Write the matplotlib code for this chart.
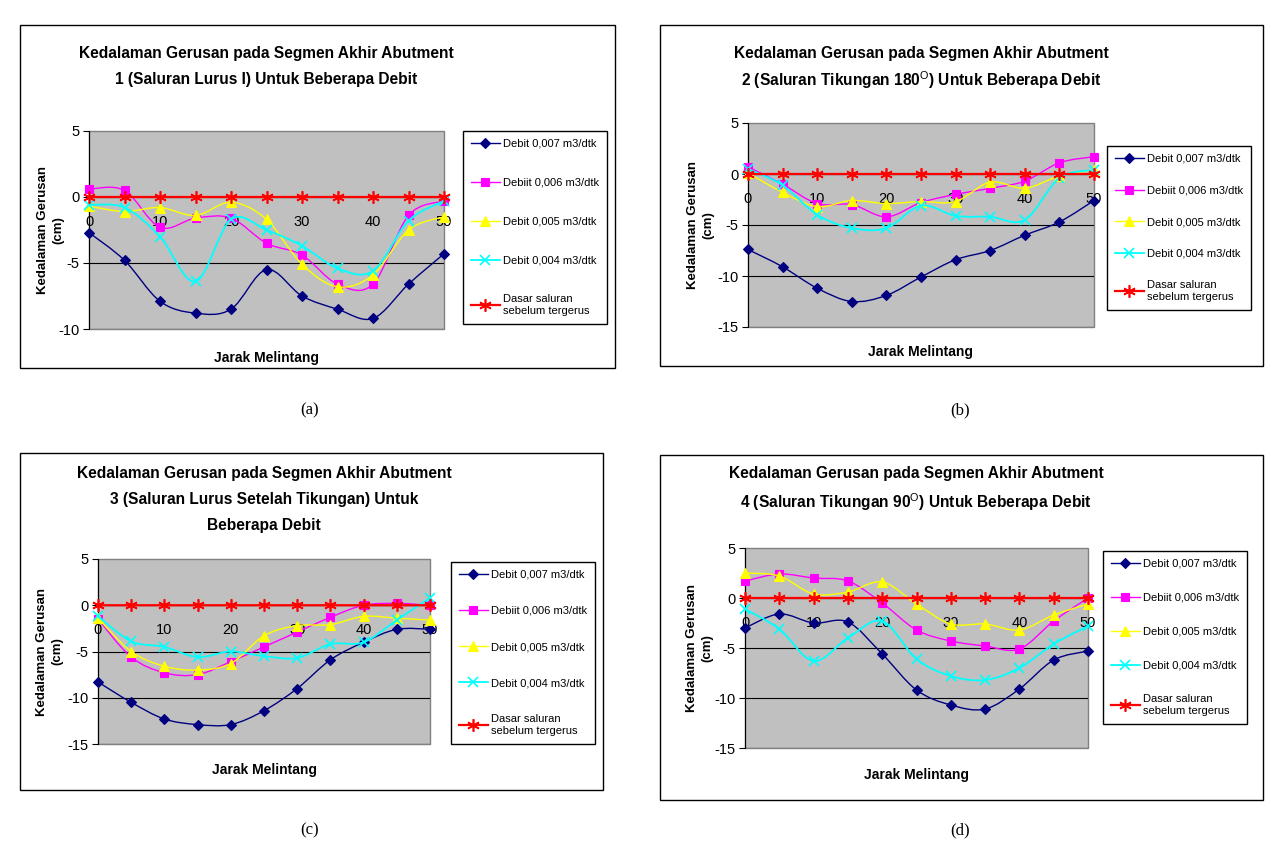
import numpy as np
import matplotlib
matplotlib.use("Agg")
import matplotlib.pyplot as plt
from matplotlib.path import Path
from matplotlib.patches import PathPatch, Rectangle
from matplotlib.lines import Line2D

plt.rcParams['font.family'] = ['Liberation Sans', 'DejaVu Sans']
plt.rcParams['mathtext.fontset'] = 'custom'
plt.rcParams['mathtext.rm'] = 'Liberation Sans'
plt.rcParams['axes.unicode_minus'] = False

# data: jarak melintang (x) and kedalaman gerusan (cm) per debit
jarak = [0, 5, 10, 15, 20, 25, 30, 35, 40, 45, 50]

a_q007 = [-2.7, -4.8, -7.9, -8.8, -8.5, -5.5, -7.5, -8.5, -9.2, -6.6, -4.3]
a_q006 = [0.6, 0.5, -2.3, -1.6, -1.6, -3.5, -4.4, -6.6, -6.6, -1.4, -0.3]
a_q005 = [-0.7, -1.1, -0.8, -1.4, -0.4, -1.7, -5.1, -6.8, -5.9, -2.5, -1.5]
a_q004 = [-0.6, -0.8, -3.0, -6.4, -1.7, -2.5, -3.7, -5.4, -5.6, -1.8, -0.3]

b_q007 = [-7.4, -9.1, -11.2, -12.5, -11.9, -10.1, -8.4, -7.5, -6.0, -4.7, -2.6]
b_q006 = [0.7, -1.0, -2.9, -3.0, -4.2, -2.8, -2.0, -1.4, -0.7, 1.1, 1.7]
b_q005 = [0.1, -1.8, -3.2, -2.6, -2.9, -2.7, -2.7, -0.8, -1.4, -0.2, 0.4]
b_q004 = [0.5, -1.1, -4.0, -5.3, -5.3, -3.1, -4.1, -4.2, -4.5, -0.4, 0.4]

c_q007 = [-8.3, -10.5, -12.3, -12.9, -12.9, -11.4, -9.0, -5.9, -4.0, -2.6, -2.6]
c_q006 = [-1.5, -5.6, -7.3, -7.5, -6.1, -4.5, -2.9, -1.3, 0.0, 0.2, 0.0]
c_q005 = [-1.4, -5.0, -6.6, -7.0, -6.3, -3.3, -2.2, -2.1, -1.2, -1.4, -1.6]
c_q004 = [-1.2, -3.9, -4.5, -5.6, -5.0, -5.5, -5.7, -4.2, -4.0, -1.6, 0.8]

d_q007 = [-3.0, -1.6, -2.5, -2.4, -5.6, -9.2, -10.7, -11.1, -9.1, -6.2, -5.3]
d_q006 = [1.7, 2.4, 2.0, 1.7, -0.5, -3.2, -4.3, -4.8, -5.1, -2.3, 0.0]
d_q005 = [2.5, 2.2, 0.4, 0.6, 1.6, -0.6, -2.6, -2.6, -3.2, -1.7, -0.6]
d_q004 = [-1.1, -3.1, -6.3, -4.0, -2.3, -6.1, -7.8, -8.2, -7.0, -4.6, -2.8]

dasar = [0] * len(jarak)

series_labels = ['Debit 0,007 m3/dtk', 'Debiit 0,006 m3/dtk', 'Debit 0,005 m3/dtk',
                 'Debit 0,004 m3/dtk', 'Dasar saluran\nsebelum tergerus']
x_ticks = [0, 10, 20, 30, 40, 50]
x_label = 'Jarak Melintang'
y_label = 'Kedalaman Gerusan\n(cm)'

title_top = 'Kedalaman Gerusan pada Segmen Akhir Abutment'
titles = [
    [title_top, '1 (Saluran Lurus I) Untuk Beberapa Debit'],
    [title_top, '2 (Saluran Tikungan 180$^{\\mathrm{O}}$) Untuk Beberapa Debit'],
    [title_top, '3 (Saluran Lurus Setelah Tikungan) Untuk', 'Beberapa Debit'],
    [title_top, '4 (Saluran Tikungan 90$^{\\mathrm{O}}$) Untuk Beberapa Debit'],
]
captions = ['(a)', '(b)', '(c)', '(d)']
panel_data = [
    [a_q007, a_q006, a_q005, a_q004, dasar],
    [b_q007, b_q006, b_q005, b_q004, dasar],
    [c_q007, c_q006, c_q005, c_q004, dasar],
    [d_q007, d_q006, d_q005, d_q004, dasar],
]
y_limits = [(-10, 5), (-15, 5), (-15, 5), (-15, 5)]

# styling
colors = ['#000080', '#FF00FF', '#FFFF00', '#00FFFF', '#FF0000']
markers = ['D', 's', '^', 'x', (6, 2, 0)]
msizes = [5.5, 5.5, 6.5, 6.5, 9]
lwidths = [1.0, 1.0, 1.0, 1.3, 1.6]

W, H = 1277, 868
# pixel layout: box, plot area, legend top-left, title line centres, caption
layout = [
    dict(box=(20, 25, 615, 368), plot=(89, 131, 444, 329), leg=(463, 131), lspace=2.6,
         title_ys=[52, 78], cap=(310, 410), xlab_y=358, ylab_x=64),
    dict(box=(660, 25, 1263, 366), plot=(748, 123, 1094, 327), leg=(1107, 146), lspace=1.95,
         title_ys=[52, 80], cap=(960, 410), xlab_y=352, ylab_x=714),
    dict(box=(20, 453, 603, 790), plot=(98, 559, 430, 744), leg=(451, 562), lspace=2.35,
         title_ys=[472, 498, 524], cap=(310, 830), xlab_y=770, ylab_x=63),
    dict(box=(660, 455, 1263, 800), plot=(745, 548, 1088, 748), leg=(1103, 551), lspace=2.15,
         title_ys=[472, 502], cap=(960, 830), xlab_y=775, ylab_x=713),
]


def frect(x0, y0, x1, y1):
    return [x0 / W, 1 - y1 / H, (x1 - x0) / W, (y1 - y0) / H]


def smooth_path(xs, ys):
    # Excel-like smoothed line: cubic Bezier through every point
    pts = np.column_stack([xs, ys]).astype(float)
    n = len(pts)
    verts = [pts[0]]
    codes = [Path.MOVETO]
    for i in range(n - 1):
        p0 = pts[i - 1] if i > 0 else pts[i]
        p1, p2 = pts[i], pts[i + 1]
        p3 = pts[i + 2] if i + 2 < n else pts[i + 1]
        verts += [p1 + (p2 - p0) / 6, p2 - (p3 - p1) / 6, p2]
        codes += [Path.CURVE4] * 3
    return Path(verts, codes)


fig = plt.figure(figsize=(W / 100, H / 100), dpi=100)

for k, lay in enumerate(layout):
    bx0, by0, bx1, by1 = lay['box']
    px0, py0, px1, py1 = lay['plot']
    fig.add_artist(Rectangle((bx0 / W, 1 - by1 / H), (bx1 - bx0) / W, (by1 - by0) / H,
                             transform=fig.transFigure, fill=False, ec='black', lw=1))
    for line, ty in zip(titles[k], lay['title_ys']):
        fig.text((px0 + px1) / 2 / W, 1 - (ty + 6) / H, line, ha='center', va='baseline',
                 fontsize=11.2, fontweight='bold')
    fig.text(lay['cap'][0] / W, 1 - lay['cap'][1] / H, captions[k], ha='center', va='center',
             fontsize=12, family='Liberation Serif')

    ax = fig.add_axes(frect(px0, py0, px1, py1))
    ax.set_facecolor('#C0C0C0')
    ax.patch.set_edgecolor('#808080')
    ax.patch.set_linewidth(1.0)
    ax.set_xlim(0, 50)
    ax.set_ylim(*y_limits[k])
    yt = list(range(y_limits[k][1], y_limits[k][0] - 1, -5))
    ax.set_yticks(yt)
    for v in yt[1:]:
        ax.axhline(v, color='black', lw=0.8, zorder=1)

    for spine in ['top', 'right']:
        ax.spines[spine].set_visible(False)
    ax.spines['left'].set_color('black')
    ax.spines['bottom'].set_position(('data', 0))
    ax.set_xticks(x_ticks)
    ax.tick_params(axis='x', length=0, pad=13, labelsize=10.5)
    ax.tick_params(axis='y', direction='out', length=4, labelsize=10.5, pad=3)

    handles = []
    for s, ys in enumerate(panel_data[k]):
        ax.add_patch(PathPatch(smooth_path(jarak, ys), fill=False, ec=colors[s],
                               lw=lwidths[s], zorder=3 + s))
        ax.plot(jarak, ys, ls='none', marker=markers[s], ms=msizes[s], color=colors[s],
                mec=colors[s], mew=1.2 if s >= 3 else 0.8, zorder=3.5 + s, clip_on=False)
        handles.append(Line2D([], [], color=colors[s], marker=markers[s], ms=msizes[s],
                              lw=lwidths[s], mew=1.2 if s >= 3 else 0.8))

    leg = ax.legend(handles, series_labels, loc='upper left',
                    bbox_to_anchor=(lay['leg'][0] / W, 1 - lay['leg'][1] / H),
                    bbox_transform=fig.transFigure, borderaxespad=0, fontsize=8.0,
                    frameon=True, fancybox=False, edgecolor='black', framealpha=1,
                    labelspacing=lay['lspace'], handlelength=2.6, handletextpad=0.3,
                    borderpad=0.7)
    leg.get_frame().set_linewidth(1.0)

    ax.set_ylabel(y_label, fontsize=9.5, fontweight='bold', linespacing=1.3)
    ax.yaxis.set_label_coords((lay['ylab_x'] - px0) / (px1 - px0), 0.5)
    fig.text((px0 + px1) / 2 / W, 1 - lay['xlab_y'] / H, x_label, ha='center', va='center',
             fontsize=10, fontweight='bold')

fig.savefig('out.png', dpi=100)
